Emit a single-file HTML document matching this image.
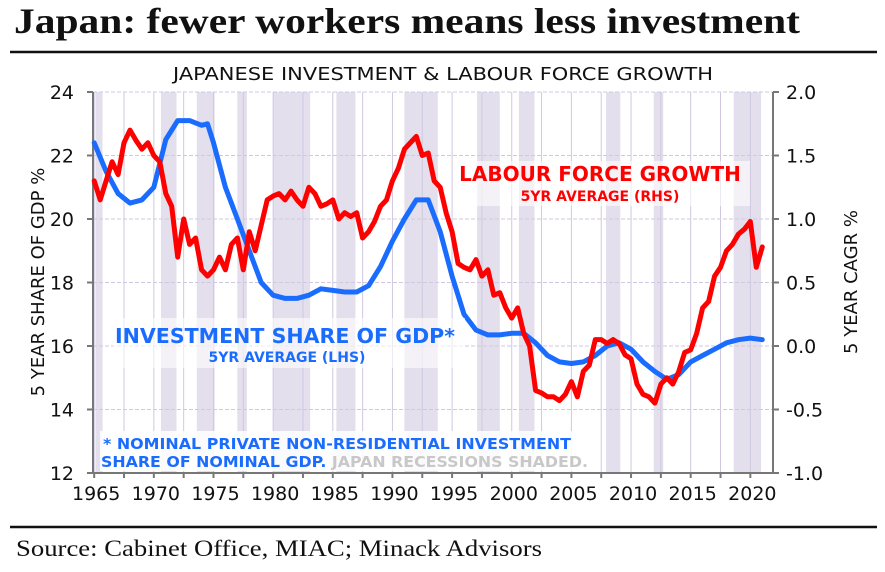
<!DOCTYPE html>
<html><head><meta charset="utf-8"><style>
body{margin:0;background:#fff;width:885px;height:567px;overflow:hidden}
svg text{font-family:"DejaVu Sans","Liberation Sans",sans-serif}
</style></head><body>
<svg id="c" width="885" height="567" xmlns="http://www.w3.org/2000/svg">
<text x="14" y="33" textLength="786" lengthAdjust="spacingAndGlyphs" style="font-family:'Liberation Serif',serif" font-size="36" font-weight="bold" fill="#111">Japan: fewer workers means less investment</text>
<line x1="10" y1="52" x2="877" y2="52" stroke="#111" stroke-width="2.5"/>
<text x="173" y="80" textLength="540" lengthAdjust="spacingAndGlyphs" font-size="18" fill="#111">JAPANESE INVESTMENT &amp; LABOUR FORCE GROWTH</text>
<g id="bands"></g><g id="grid"></g><g id="axes"></g>
<rect x="100" y="431" width="490" height="40" fill="#fff" opacity="0.85"/>
<text x="103" y="449" textLength="468" lengthAdjust="spacingAndGlyphs" font-size="15" font-weight="bold" fill="#1a6cff">* NOMINAL PRIVATE NON-RESIDENTIAL INVESTMENT</text>
<text x="101" y="467" textLength="487" lengthAdjust="spacingAndGlyphs" font-size="15" font-weight="bold" fill="#1a6cff">SHARE OF NOMINAL GDP. <tspan fill="#c8c8c8">JAPAN RECESSIONS SHADED.</tspan></text>
<g id="series"></g>
<rect x="113" y="318" width="352" height="50" fill="#fff" opacity="0.6"/>
<text x="115" y="343" textLength="340" lengthAdjust="spacingAndGlyphs" font-size="20" font-weight="bold" fill="#1a6cff">INVESTMENT SHARE OF GDP*</text>
<text x="287" y="362" font-size="14" font-weight="bold" fill="#1a6cff" text-anchor="middle">5YR AVERAGE (LHS)</text>
<rect x="475" y="161" width="275" height="45" fill="#fff" opacity="0.6"/>
<text x="600" y="181" font-size="20" font-weight="bold" fill="#f00" text-anchor="middle">LABOUR FORCE GROWTH</text>
<text x="600" y="201" font-size="14" font-weight="bold" fill="#f00" text-anchor="middle">5YR AVERAGE (RHS)</text>
<text transform="translate(44,282) rotate(-90)" font-size="18" text-anchor="middle" fill="#111">5 YEAR SHARE OF GDP %</text>
<text transform="translate(857,282) rotate(-90)" font-size="18" text-anchor="middle" fill="#111">5 YEAR CAGR %</text>
<line x1="10" y1="527" x2="877" y2="527" stroke="#111" stroke-width="2.5"/>
<text x="16" y="556" textLength="526" lengthAdjust="spacingAndGlyphs" style="font-family:'Liberation Serif',serif" font-size="23" fill="#111">Source: Cabinet Office, MIAC; Minack Advisors</text>
</svg>
<script>
const leftTicks=[12,14,16,18,20,22,24];
const rightTicks=["-1.0","-0.5","0.0","0.5","1.0","1.5","2.0"];
const yearLabels=[1965,1970,1975,1980,1985,1990,1995,2000,2005,2010,2015,2020];
const recessionStarts=[1965.1,1970.6,1973.6,1977,1980,1985.3,1991,1997.1,2000.6,2007.9,2011.9,2018.6];
const recessionEnds=[1965.7,1971.9,1975.1,1977.8,1983.1,1986.9,1993.8,1999,2001.9,2009.1,2012.7,2020.9];
const invYears=[1965,1966,1967,1968,1969,1970,1971,1972,1973,1974,1974.5,1975,1976,1977,1978,1979,1980,1981,1982,1983,1984,1985,1986,1987,1988,1989,1990,1991,1992,1993,1994,1995,1996,1997,1998,1999,2000,2001,2002,2003,2004,2005,2006,2007,2008,2009,2010,2011,2012,2013,2014,2015,2016,2017,2018,2019,2020,2021];
const invValues=[22.4,21.5,20.8,20.5,20.6,21.0,22.5,23.1,23.1,22.95,23.0,22.4,21.0,20.0,19.0,18.0,17.6,17.5,17.5,17.6,17.8,17.75,17.7,17.7,17.9,18.5,19.3,20.0,20.6,20.6,19.6,18.2,17.0,16.5,16.35,16.35,16.4,16.4,16.1,15.7,15.5,15.45,15.5,15.7,16.0,16.1,15.9,15.5,15.2,14.95,15.1,15.5,15.7,15.9,16.1,16.2,16.25,16.2];
const labYears=[1965,1965.5,1966,1966.5,1967,1967.5,1968,1968.5,1969,1969.5,1970,1970.5,1971,1971.5,1972,1972.5,1973,1973.5,1974,1974.5,1975,1975.5,1976,1976.5,1977,1977.5,1978,1978.5,1979,1979.5,1980,1980.5,1981,1981.5,1982,1982.5,1983,1983.5,1984,1984.5,1985,1985.5,1986,1986.5,1987,1987.5,1988,1988.5,1989,1989.5,1990,1990.5,1991,1991.5,1992,1992.5,1993,1993.5,1994,1994.5,1995,1995.5,1996,1996.5,1997,1997.5,1998,1998.5,1999,1999.5,2000,2000.5,2001,2001.5,2002,2002.5,2003,2003.5,2004,2004.5,2005,2005.5,2006,2006.5,2007,2007.5,2008,2008.5,2009,2009.5,2010,2010.5,2011,2011.5,2012,2012.5,2013,2013.5,2014,2014.5,2015,2015.5,2016,2016.5,2017,2017.5,2018,2018.5,2019,2019.5,2020,2020.5,2021];
const labValues=[1.3,1.15,1.3,1.45,1.35,1.6,1.7,1.62,1.55,1.6,1.5,1.45,1.2,1.1,0.7,1.0,0.8,0.85,0.6,0.55,0.6,0.7,0.6,0.8,0.85,0.6,0.9,0.75,0.95,1.15,1.18,1.2,1.15,1.22,1.15,1.1,1.25,1.2,1.1,1.12,1.15,1.0,1.05,1.02,1.05,0.85,0.9,0.98,1.1,1.15,1.3,1.4,1.55,1.6,1.65,1.5,1.52,1.3,1.25,1.05,0.9,0.65,0.62,0.6,0.68,0.55,0.6,0.4,0.42,0.3,0.22,0.3,0.1,0.0,-0.35,-0.37,-0.4,-0.4,-0.43,-0.38,-0.28,-0.4,-0.2,-0.15,0.05,0.05,0.02,0.05,0.02,-0.07,-0.1,-0.3,-0.38,-0.4,-0.45,-0.3,-0.25,-0.3,-0.2,-0.05,-0.03,0.1,0.3,0.35,0.55,0.62,0.75,0.8,0.88,0.92,0.98,0.62,0.78];
const NS="http://www.w3.org/2000/svg";
const X0=93,X1=773,Y0=92,Y1=473;
const x=yr=>X0+(yr-1964.9)*11.93;
const yL=v=>Y1-(v-12)/12*(Y1-Y0);
const yR=v=>Y1-(v+1)/3*(Y1-Y0);
function mk(tag,attrs,parent){const e=document.createElementNS(NS,tag);for(const k in attrs)e.setAttribute(k,attrs[k]);document.getElementById(parent).appendChild(e);return e;}
recessionStarts.forEach((s,i)=>{
 const r=mk('rect',{x:x(s),y:Y0,width:x(recessionEnds[i])-x(s),height:Y1-Y0,fill:'#e3dfec'},'bands');
 
 
});
for(let yr=1965;yr<=2022;yr+=2.5){
 const l=mk('line',{x1:x(yr),x2:x(yr),y1:Y0,y2:Y1,stroke:'#cfc8e0','stroke-width':1},'grid');
 
 
 const t=mk('line',{x1:x(yr),x2:x(yr),y1:Y1,y2:Y1+5,stroke:'#777','stroke-width':2},'axes');
 
 
}
leftTicks.forEach((v,i)=>{
 const g=mk('line',{x1:X0,x2:X1,y1:yL(v),y2:yL(v),stroke:'#cfc8e0','stroke-dasharray':'4,2'},'grid');
 
 
 const t=mk('text',{x:74,y:yL(v)+7,'font-size':19,'text-anchor':'end',fill:'#111'},'axes');t.textContent=v;
 
 
 mk('line',{x1:X0-6,x2:X0,y1:yL(v),y2:yL(v),stroke:'#777','stroke-width':2},'axes');
});
rightTicks.forEach(v=>{
 const t=mk('text',{x:786,y:yR(+v)+7,'font-size':19,fill:'#111'},'axes');t.textContent=v;
 
 
 mk('line',{x1:X1,x2:X1+6,y1:yR(+v),y2:yR(+v),stroke:'#777','stroke-width':2},'axes');
});
yearLabels.forEach(yr=>{
 const t=mk('text',{x:x(yr)+2,y:500,'font-size':19,'text-anchor':'middle',fill:'#111'},'axes');t.textContent=yr;
 
 
});
const ax=mk('path',{d:`M${X0},${Y0}V${Y1}H${X1}V${Y0}`,stroke:'#777','stroke-width':2,fill:'none'},'axes');


const inv=mk('path',{d:invYears.map((yr,i)=>(i?'L':'M')+x(yr).toFixed(1)+','+yL(invValues[i]).toFixed(1)).join(''),stroke:'#1a6cff','stroke-width':5,fill:'none','stroke-linejoin':'round','stroke-linecap':'round'},'series');


const lab=mk('path',{d:labYears.map((yr,i)=>(i?'L':'M')+x(yr).toFixed(1)+','+yR(labValues[i]).toFixed(1)).join(''),stroke:'#ff0000','stroke-width':5,fill:'none','stroke-linejoin':'round','stroke-linecap':'round'},'series');


</script>
</body></html>
